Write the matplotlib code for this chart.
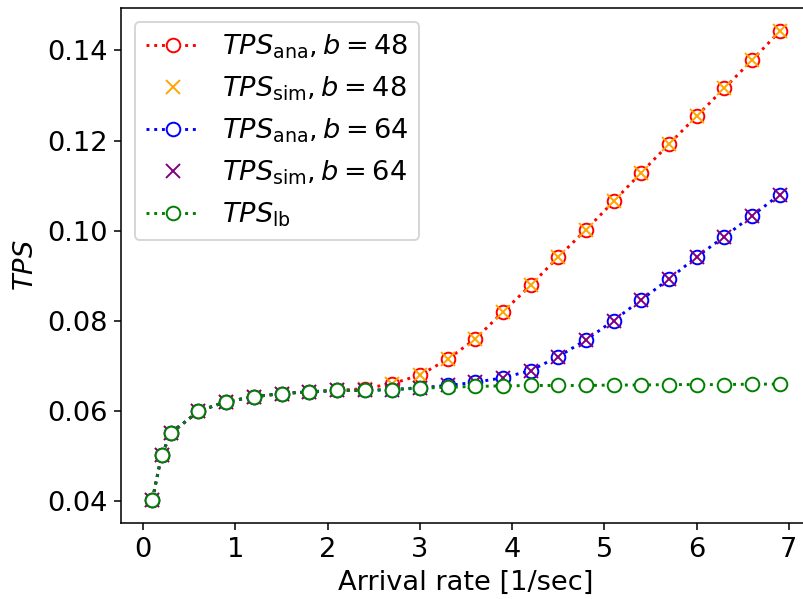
import matplotlib
matplotlib.use("Agg")
import matplotlib.pyplot as plt

plt.rcParams['font.size'] = 14

# arrival rates [1/sec]
rate = [0.1, 0.2, 0.3, 0.6, 0.9, 1.2, 1.5, 1.8, 2.1, 2.4, 2.7, 3.0, 3.3,
        3.6, 3.9, 4.2, 4.5, 4.8, 5.1, 5.4, 5.7, 6.0, 6.3, 6.6, 6.9]

# lower bound
tps_lb = [0.0404, 0.0502, 0.0551, 0.0600, 0.0621, 0.0632, 0.0639, 0.0643,
          0.0646, 0.0646, 0.0648, 0.0651, 0.0653, 0.0655, 0.0656, 0.0657,
          0.0657, 0.0657, 0.0658, 0.0658, 0.0659, 0.0659, 0.0659, 0.0660, 0.0660]

# b = 48
tps_ana_48 = [0.0404, 0.0502, 0.0551, 0.0600, 0.0621, 0.0632, 0.0639, 0.0643,
              0.0646, 0.0650, 0.0661, 0.0680, 0.0715, 0.0760, 0.0820, 0.0879,
              0.0942, 0.1002, 0.1065, 0.1129, 0.1192, 0.1254, 0.1316, 0.1378, 0.1442]
tps_sim_48 = [0.0404, 0.0502, 0.0551, 0.0600, 0.0621, 0.0632, 0.0639, 0.0643,
              0.0646, 0.0650, 0.0661, 0.0680, 0.0715, 0.0760, 0.0820, 0.0879,
              0.0942, 0.1002, 0.1065, 0.1129, 0.1192, 0.1254, 0.1316, 0.1378, 0.1442]

# b = 64
tps_ana_64 = [0.0404, 0.0502, 0.0551, 0.0600, 0.0621, 0.0632, 0.0639, 0.0643,
              0.0646, 0.0646, 0.0648, 0.0652, 0.0657, 0.0664, 0.0674, 0.0690,
              0.0721, 0.0758, 0.0801, 0.0847, 0.0893, 0.0942, 0.0987, 0.1033, 0.1080]
tps_sim_64 = [0.0404, 0.0502, 0.0551, 0.0600, 0.0621, 0.0632, 0.0639, 0.0643,
              0.0646, 0.0646, 0.0648, 0.0652, 0.0657, 0.0664, 0.0674, 0.0690,
              0.0721, 0.0758, 0.0801, 0.0847, 0.0893, 0.0942, 0.0987, 0.1033, 0.1080]

fig = plt.figure(figsize=(803 / 140, 599 / 140), dpi=140)
# axes runs a bit past the right border, like the original crop
ax = fig.add_axes([121 / 803, 76 / 599, 690 / 803, 515 / 599])

ms = 7
ax.plot(rate, tps_ana_48, ':o', color='red', mfc='white', ms=ms,
        label=r'$TPS_{\mathrm{ana}}, b=48$')
ax.plot(rate, tps_sim_48, 'x', color='orange', ls='none', ms=ms,
        label=r'$TPS_{\mathrm{sim}}, b=48$')
ax.plot(rate, tps_ana_64, ':o', color='blue', mfc='white', ms=ms,
        label=r'$TPS_{\mathrm{ana}}, b=64$')
ax.plot(rate, tps_sim_64, 'x', color='purple', ls='none', ms=ms,
        label=r'$TPS_{\mathrm{sim}}, b=64$')
ax.plot(rate, tps_lb, ':o', color='green', mfc='white', ms=ms,
        label=r'$TPS_{\mathrm{lb}}$')

ax.set_xlabel('Arrival rate [1/sec]')
ax.set_ylabel(r'$TPS$')
ax.legend(loc='upper left')

fig.savefig('out.png', dpi=140)
